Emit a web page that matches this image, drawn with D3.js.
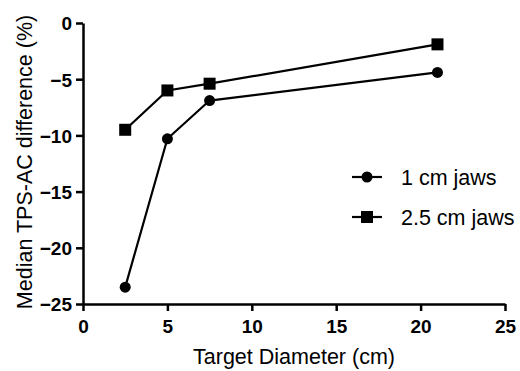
<!DOCTYPE html>
<html>
<head>
<meta charset="utf-8">
<script src="https://cdn.jsdelivr.net/npm/d3@7"></script>
<style>
  body { margin: 0; background: #fff; }
  text { font-family: "Liberation Sans", Arial, sans-serif; fill: #000; }
</style>
</head>
<body>
<svg id="chart" width="520" height="371"></svg>
<script>
// data
const diameters = [2.5, 5, 7.5, 21];
const jaws1 = [-23.5, -10.3, -6.9, -4.4];
const jaws25 = [-9.5, -6.0, -5.4, -1.9];
const xTicks = [0, 5, 10, 15, 20, 25];
const yTicks = [0, -5, -10, -15, -20, -25];

const svg = d3.select("#chart");
const mLeft = 83, mRight = 505, mTop = 23, mBottom = 304;

const x = d3.scaleLinear().domain([0, 25]).range([mLeft, mRight]);
const y = d3.scaleLinear().domain([-25, 0]).range([mBottom, mTop]);

const xAxis = svg.append("g")
    .attr("transform", "translate(0," + mBottom + ")")
    .call(d3.axisBottom(x).tickValues(xTicks).tickSize(7).tickPadding(6).tickSizeOuter(0));
const yAxis = svg.append("g")
    .attr("transform", "translate(" + mLeft + ",0)")
    .call(d3.axisLeft(y).tickValues(yTicks).tickSize(7).tickPadding(4).tickSizeOuter(0)
        .tickFormat(d3.format("d")));

[xAxis, yAxis].forEach(a => {
    a.attr("font-size", null).attr("font-family", null);
    a.selectAll("path.domain").attr("stroke", "#000").attr("stroke-width", 2.5);
    a.selectAll(".tick line").attr("stroke", "#000").attr("stroke-width", 2.5);
    a.selectAll(".tick text")
        .attr("font-size", 19).attr("font-weight", "bold");
});
yAxis.selectAll(".tick text").attr("dy", "0.36em");
xAxis.selectAll(".tick text").attr("dy", "0.82em");

svg.append("text")
    .attr("x", (mLeft + mRight) / 2).attr("y", 364)
    .attr("text-anchor", "middle").attr("font-size", 21.5)
    .text("Target Diameter (cm)");

svg.append("text")
    .attr("transform", "translate(32,162) rotate(-90)")
    .attr("text-anchor", "middle").attr("font-size", 21.5)
    .text("Median TPS-AC difference (%)");

const line = d3.line().x((d, i) => x(diameters[i])).y(d => y(d));

const series = [
    {name: "1 cm jaws", values: jaws1, shape: "circle"},
    {name: "2.5 cm jaws", values: jaws25, shape: "square"}
];

function marker(g, shape, cx, cy) {
    if (shape === "circle") {
        g.append("circle").attr("cx", cx).attr("cy", cy).attr("r", 5.5).attr("fill", "#000");
    } else {
        g.append("rect").attr("x", cx - 6).attr("y", cy - 6).attr("width", 12).attr("height", 12).attr("fill", "#000");
    }
}

series.forEach(s => {
    const g = svg.append("g");
    g.append("path").datum(s.values).attr("d", line)
        .attr("fill", "none").attr("stroke", "#000").attr("stroke-width", 2.2);
    s.values.forEach((v, i) => marker(g, s.shape, x(diameters[i]), y(v)));
});

// legend
series.forEach((s, i) => {
    const ly = 177 + i * 40;
    const g = svg.append("g");
    g.append("line").attr("x1", 352).attr("x2", 382).attr("y1", ly).attr("y2", ly)
        .attr("stroke", "#000").attr("stroke-width", 2.2);
    marker(g, s.shape, 367, ly);
    g.append("text").attr("x", 401).attr("y", ly + 8).attr("font-size", 21.5)
        .text(s.name);
});
</script>
</body>
</html>
